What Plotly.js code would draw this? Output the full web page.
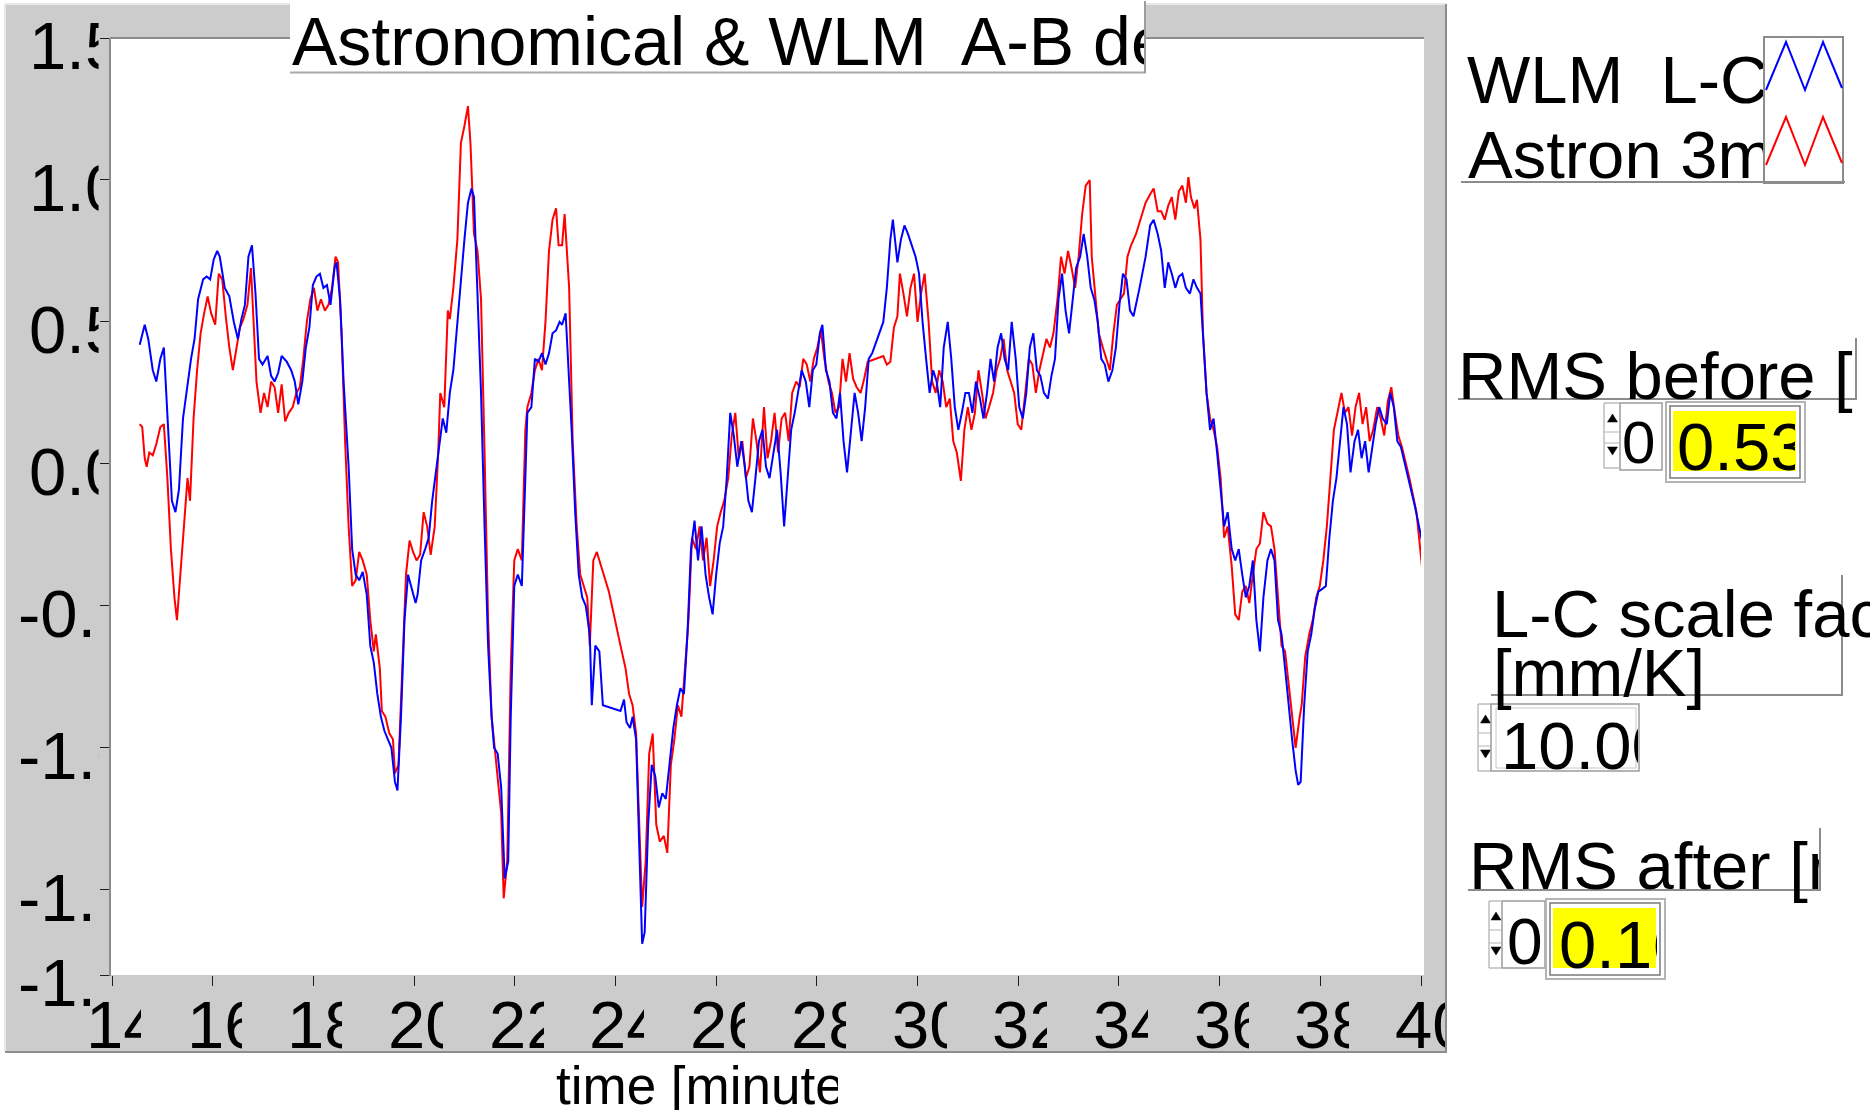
<!DOCTYPE html>
<html>
<head>
<meta charset="utf-8">
<script src="https://cdn.plot.ly/plotly-3.0.1.min.js"></script>
<style>
  html, body { margin: 0; padding: 0; background: #ffffff; overflow: hidden; }
  #chart { width: 1870px; height: 1110px; }
</style>
</head>
<body>
<div id="chart"></div>
<script>
// ---- data: A-B delay traces, time in minutes ----
const wlmTime = [
  14.55,14.65,14.72,14.81,14.88,14.96,15.03,15.10,15.19,15.26,
  15.33,15.41,15.48,15.57,15.64,15.71,15.81,15.88,15.95,16.02,
  16.09,16.14,16.24,16.33,16.42,16.50,16.57,16.64,16.71,16.78,
  16.85,16.92,16.99,17.09,17.16,17.23,17.30,17.37,17.47,17.56,
  17.63,17.70,17.78,17.85,17.92,17.99,18.06,18.13,18.20,18.27,
  18.34,18.42,18.46,18.53,18.60,18.70,18.77,18.84,18.91,18.98,
  19.06,19.13,19.20,19.27,19.34,19.41,19.48,19.55,19.62,19.67,
  19.74,19.81,19.88,19.96,20.03,20.07,20.14,20.22,20.29,20.36,
  20.43,20.50,20.57,20.64,20.71,20.78,20.86,20.93,21.00,21.07,
  21.14,21.19,21.26,21.33,21.40,21.47,21.54,21.59,21.66,21.73,
  21.80,21.87,21.92,21.99,22.06,22.14,22.21,22.25,22.33,22.40,
  22.47,22.54,22.61,22.68,22.75,22.82,22.89,22.94,23.01,23.06,
  23.13,23.20,23.27,23.34,23.41,23.49,23.53,23.60,23.68,23.75,
  23.91,24.10,24.17,24.22,24.29,24.34,24.41,24.46,24.53,24.58,
  24.65,24.72,24.79,24.86,24.93,25.00,25.07,25.15,25.22,25.29,
  25.36,25.43,25.50,25.57,25.64,25.71,25.79,25.86,25.93,26.00,
  26.07,26.14,26.21,26.28,26.35,26.42,26.50,26.57,26.64,26.71,
  26.78,26.85,26.92,26.99,27.06,27.14,27.21,27.28,27.35,27.42,
  27.49,27.56,27.63,27.70,27.78,27.85,27.92,27.99,28.06,28.11,
  28.18,28.25,28.32,28.39,28.46,28.53,28.60,28.68,28.75,28.82,
  28.89,28.96,29.03,29.10,29.32,29.39,29.46,29.51,29.55,29.60,
  29.67,29.74,29.81,29.88,29.96,30.03,30.10,30.17,30.24,30.31,
  30.38,30.45,30.52,30.60,30.67,30.74,30.81,30.88,30.95,31.02,
  31.09,31.16,31.24,31.31,31.38,31.45,31.52,31.59,31.66,31.73,
  31.80,31.87,31.95,32.02,32.09,32.16,32.23,32.30,32.37,32.44,
  32.51,32.59,32.66,32.73,32.80,32.87,32.94,33.01,33.08,33.15,
  33.23,33.30,33.37,33.44,33.51,33.58,33.65,33.72,33.79,33.87,
  33.94,34.01,34.08,34.15,34.22,34.29,34.41,34.53,34.62,34.69,
  34.77,34.84,34.91,34.98,35.05,35.12,35.19,35.26,35.33,35.41,
  35.48,35.55,35.62,35.67,35.74,35.81,35.88,35.95,36.02,36.09,
  36.16,36.24,36.31,36.38,36.45,36.52,36.59,36.66,36.73,36.80,
  36.87,36.95,37.02,37.09,37.16,37.23,37.30,37.37,37.44,37.51,
  37.56,37.61,37.68,37.75,37.82,37.89,37.96,38.04,38.11,38.18,
  38.25,38.32,38.39,38.46,38.53,38.60,38.68,38.75,38.82,38.89,
  38.96,39.03,39.10,39.17,39.24,39.32,39.39,39.46,39.53,39.60,
  39.74,39.88,40.03
];
const wlmDelay = [
  0.42,0.49,0.44,0.33,0.29,0.37,0.41,0.18,-0.13,-0.17,
  -0.09,0.16,0.25,0.37,0.44,0.58,0.65,0.66,0.65,0.72,
  0.75,0.73,0.62,0.59,0.50,0.44,0.51,0.56,0.73,0.77,
  0.60,0.37,0.35,0.38,0.31,0.29,0.32,0.38,0.36,0.33,
  0.29,0.21,0.29,0.41,0.48,0.63,0.66,0.67,0.62,0.63,
  0.56,0.69,0.71,0.58,0.29,-0.01,-0.30,-0.39,-0.41,-0.38,
  -0.46,-0.64,-0.70,-0.81,-0.89,-0.94,-0.97,-1.00,-1.12,-1.15,
  -0.89,-0.55,-0.39,-0.44,-0.49,-0.46,-0.34,-0.30,-0.26,-0.13,
  -0.03,0.06,0.16,0.11,0.25,0.33,0.50,0.67,0.79,0.92,
  0.97,0.94,0.60,0.25,-0.22,-0.64,-0.89,-1.00,-1.02,-1.14,
  -1.46,-1.40,-0.89,-0.43,-0.39,-0.43,-0.05,0.18,0.20,0.37,
  0.36,0.39,0.35,0.39,0.46,0.47,0.50,0.49,0.53,0.37,
  0.12,-0.17,-0.39,-0.47,-0.50,-0.60,-0.85,-0.64,-0.66,-0.85,
  -0.86,-0.87,-0.83,-0.91,-0.93,-0.89,-0.97,-1.31,-1.69,-1.65,
  -1.27,-1.06,-1.10,-1.21,-1.16,-1.18,-1.06,-0.93,-0.85,-0.79,
  -0.81,-0.60,-0.30,-0.20,-0.34,-0.22,-0.39,-0.47,-0.53,-0.39,
  -0.28,-0.22,-0.05,0.18,0.10,-0.01,0.08,-0.01,-0.13,-0.17,
  -0.05,0.08,0.12,-0.01,-0.05,0.04,0.12,-0.03,-0.22,-0.05,
  0.12,0.18,0.25,0.33,0.29,0.20,0.33,0.35,0.46,0.49,
  0.33,0.29,0.18,0.16,0.25,0.08,-0.03,0.12,0.25,0.18,
  0.08,0.20,0.37,0.39,0.50,0.62,0.79,0.86,0.79,0.71,
  0.79,0.84,0.81,0.77,0.73,0.67,0.50,0.37,0.25,0.33,
  0.29,0.20,0.41,0.50,0.37,0.20,0.12,0.18,0.25,0.25,
  0.18,0.29,0.23,0.16,0.25,0.37,0.29,0.41,0.46,0.37,
  0.33,0.50,0.37,0.20,0.16,0.25,0.41,0.46,0.33,0.31,
  0.25,0.23,0.31,0.37,0.58,0.67,0.54,0.46,0.58,0.69,
  0.73,0.81,0.73,0.62,0.58,0.50,0.37,0.35,0.29,0.33,
  0.41,0.56,0.67,0.65,0.54,0.52,0.62,0.73,0.84,0.86,
  0.81,0.75,0.62,0.71,0.67,0.62,0.66,0.67,0.62,0.60,
  0.65,0.62,0.60,0.46,0.25,0.12,0.16,0.04,-0.09,-0.22,
  -0.17,-0.30,-0.34,-0.30,-0.39,-0.47,-0.43,-0.34,-0.55,-0.66,
  -0.47,-0.34,-0.30,-0.34,-0.55,-0.60,-0.72,-0.85,-0.97,-1.08,
  -1.13,-1.12,-0.85,-0.66,-0.60,-0.51,-0.45,-0.44,-0.43,-0.26,
  -0.13,-0.05,0.08,0.20,0.14,-0.03,0.08,0.12,0.02,0.08,
  -0.03,0.06,0.14,0.20,0.16,0.14,0.25,0.20,0.08,0.06,
  -0.05,-0.15,-0.28
];
const astronTime = [
  14.55,14.60,14.65,14.69,14.74,14.81,14.88,14.96,15.03,15.10,
  15.17,15.24,15.29,15.36,15.43,15.50,15.55,15.62,15.69,15.76,
  15.83,15.90,15.97,16.05,16.12,16.19,16.26,16.33,16.40,16.47,
  16.54,16.61,16.69,16.76,16.80,16.87,16.95,17.02,17.09,17.16,
  17.23,17.30,17.37,17.44,17.51,17.59,17.66,17.73,17.80,17.87,
  17.94,18.01,18.08,18.15,18.23,18.30,18.37,18.44,18.49,18.56,
  18.63,18.70,18.77,18.84,18.91,18.98,19.06,19.13,19.20,19.24,
  19.32,19.36,19.43,19.51,19.58,19.62,19.69,19.77,19.84,19.91,
  19.98,20.05,20.12,20.19,20.26,20.33,20.41,20.48,20.52,20.60,
  20.67,20.71,20.78,20.86,20.93,21.00,21.07,21.12,21.19,21.26,
  21.33,21.40,21.47,21.54,21.61,21.66,21.73,21.78,21.85,21.92,
  21.99,22.06,22.14,22.21,22.25,22.33,22.40,22.47,22.54,22.61,
  22.68,22.75,22.82,22.87,22.94,22.99,23.04,23.08,23.15,23.23,
  23.30,23.37,23.44,23.49,23.56,23.63,23.87,24.10,24.20,24.27,
  24.34,24.41,24.48,24.53,24.60,24.67,24.74,24.81,24.88,24.96,
  25.03,25.10,25.17,25.24,25.31,25.38,25.45,25.52,25.60,25.67,
  25.74,25.81,25.88,25.95,26.02,26.09,26.16,26.24,26.31,26.38,
  26.45,26.52,26.59,26.66,26.73,26.80,26.87,26.95,27.02,27.09,
  27.16,27.23,27.30,27.37,27.44,27.51,27.59,27.66,27.73,27.80,
  27.87,27.94,28.01,28.08,28.15,28.23,28.30,28.37,28.44,28.51,
  28.58,28.65,28.72,28.79,28.87,28.94,29.01,29.32,29.39,29.46,
  29.53,29.60,29.65,29.72,29.79,29.86,29.93,30.00,30.07,30.14,
  30.22,30.29,30.36,30.43,30.50,30.57,30.64,30.71,30.78,30.86,
  30.93,31.00,31.07,31.14,31.21,31.28,31.35,31.42,31.50,31.57,
  31.64,31.71,31.78,31.85,31.92,31.99,32.06,32.14,32.21,32.28,
  32.35,32.42,32.49,32.56,32.63,32.70,32.78,32.85,32.92,32.99,
  33.06,33.13,33.20,33.27,33.34,33.42,33.46,33.53,33.60,33.68,
  33.75,33.82,33.89,33.96,34.03,34.10,34.17,34.24,34.34,34.43,
  34.53,34.62,34.69,34.77,34.84,34.91,34.98,35.05,35.12,35.19,
  35.26,35.33,35.38,35.43,35.50,35.55,35.62,35.67,35.74,35.81,
  35.88,35.95,36.02,36.09,36.16,36.24,36.31,36.38,36.45,36.52,
  36.59,36.66,36.73,36.80,36.87,36.95,37.02,37.09,37.16,37.23,
  37.30,37.37,37.44,37.51,37.59,37.63,37.70,37.78,37.85,37.92,
  37.99,38.06,38.13,38.20,38.27,38.34,38.42,38.49,38.56,38.63,
  38.70,38.77,38.84,38.91,38.98,39.05,39.13,39.20,39.27,39.34,
  39.41,39.48,39.55,39.62,39.77,39.91,40.03
];
const astronDelay = [
  0.14,0.13,0.02,-0.01,0.04,0.03,0.07,0.13,0.14,-0.05,
  -0.30,-0.47,-0.55,-0.39,-0.22,-0.05,-0.13,0.16,0.33,0.46,
  0.53,0.59,0.53,0.49,0.67,0.65,0.52,0.41,0.33,0.41,
  0.48,0.51,0.56,0.69,0.55,0.29,0.18,0.25,0.20,0.29,
  0.27,0.18,0.28,0.15,0.18,0.20,0.25,0.27,0.37,0.50,
  0.58,0.62,0.54,0.58,0.54,0.56,0.62,0.73,0.71,0.46,
  0.08,-0.22,-0.43,-0.41,-0.31,-0.34,-0.39,-0.55,-0.66,-0.60,
  -0.72,-0.87,-0.89,-0.95,-0.97,-1.09,-1.06,-0.72,-0.39,-0.27,
  -0.31,-0.34,-0.32,-0.17,-0.22,-0.32,-0.22,0.04,0.25,0.20,
  0.54,0.51,0.62,0.79,1.13,1.19,1.26,1.13,0.81,0.75,
  0.58,0.04,-0.55,-0.89,-1.02,-1.10,-1.23,-1.53,-1.40,-0.72,
  -0.34,-0.30,-0.34,0.12,0.20,0.25,0.33,0.37,0.33,0.50,
  0.75,0.86,0.90,0.77,0.77,0.88,0.73,0.62,0.08,-0.22,
  -0.39,-0.43,-0.47,-0.64,-0.34,-0.31,-0.45,-0.64,-0.72,-0.81,
  -0.85,-0.95,-1.31,-1.56,-1.40,-1.02,-0.95,-1.27,-1.33,-1.31,
  -1.37,-1.06,-0.97,-0.85,-0.89,-0.72,-0.55,-0.26,-0.30,-0.22,
  -0.34,-0.26,-0.43,-0.34,-0.22,-0.17,-0.13,-0.05,0.10,0.18,
  0.02,0.08,-0.05,-0.01,0.16,0.08,-0.03,0.20,0.02,0.08,
  0.18,0.04,0.16,0.18,0.08,0.25,0.29,0.27,0.37,0.35,
  0.29,0.37,0.41,0.47,0.37,0.29,0.25,0.18,0.20,0.37,
  0.29,0.39,0.30,0.27,0.25,0.30,0.36,0.38,0.35,0.36,
  0.48,0.52,0.67,0.60,0.52,0.62,0.67,0.50,0.60,0.67,
  0.50,0.29,0.25,0.33,0.29,0.20,0.23,0.08,0.04,-0.06,
  0.12,0.20,0.12,0.18,0.33,0.25,0.16,0.20,0.25,0.33,
  0.37,0.44,0.33,0.29,0.25,0.14,0.12,0.25,0.37,0.35,
  0.25,0.33,0.39,0.44,0.41,0.46,0.58,0.73,0.67,0.75,
  0.69,0.62,0.73,0.88,0.98,1.00,0.73,0.60,0.46,0.41,
  0.37,0.33,0.46,0.56,0.58,0.60,0.73,0.77,0.81,0.86,
  0.92,0.95,0.97,0.89,0.89,0.86,0.91,0.94,0.86,0.96,
  0.98,0.92,1.01,0.94,0.90,0.93,0.79,0.46,0.25,0.16,
  0.12,0.06,-0.05,-0.26,-0.22,-0.36,-0.53,-0.55,-0.45,-0.43,
  -0.49,-0.39,-0.30,-0.28,-0.17,-0.21,-0.22,-0.30,-0.47,-0.64,
  -0.66,-0.78,-0.89,-1.00,-0.89,-0.85,-0.68,-0.60,-0.55,-0.47,
  -0.43,-0.34,-0.22,-0.05,0.12,0.18,0.25,0.18,0.20,0.10,
  0.20,0.25,0.14,0.20,0.08,0.12,0.20,0.16,0.10,0.22,
  0.27,0.18,0.10,0.06,-0.05,-0.17,-0.38
];

// axis scales and tick labels
const timeRange  = [14, 40];
const delayRange = [-1.8, 1.5];
const xTickValues = [14, 16, 18, 20, 22, 24, 26, 28, 30, 32, 34, 36, 38, 40];
const yTickValues = [1.5, 1.0, 0.5, 0.0, -0.5, -1.0, -1.5, -1.8];

// panel readouts
const chartTitle   = 'Astronomical & WLM\u00a0 A-B delay [mm]';
const timeLabel    = 'time [minutes]';
const seriesNames  = ['WLM\u00a0 L-C corrected', 'Astron 3m reference'];
const rmsBeforeLbl = 'RMS before [mm]';
const rmsAfterLbl  = 'RMS after [mm]';
const scaleLbl     = ['L-C scale factor', '[mm/K]'];
const rmsBefore    = '0.53';
const rmsAfter     = '0.16';
const scaleFactor  = '10.00';
const digitIndex   = '0';

// ---- page geometry (pixels) ----
const PAGE_W = 1870, PAGE_H = 1110;
const M = { l: 112, r: 449, t: 38, b: 135 };
const PW = PAGE_W - M.l - M.r, PH = PAGE_H - M.t - M.b;
const px = x => (x - M.l) / PW;               // page px -> paper x
const py = y => (PAGE_H - M.b - y) / PH;      // page px -> paper y
const xPix = v => M.l + (v - timeRange[0]) / (timeRange[1] - timeRange[0]) * PW;

const FONT = 'Liberation Sans, Arial, Helvetica, sans-serif';
const ASC = 0.905;   // ascent of the face, fraction of size
const ADV = { '0': .556, '1': .556, '2': .556, '3': .556, '4': .556, '5': .556,
              '6': .556, '7': .556, '8': .556, '9': .556, '.': .278, '-': .333 };
const textWidth = (s, size) => [...s].reduce((w, c) => w + (ADV[c] || .556), 0) * size;

const GREY_DARK = '#8c8c8c', GREY_MID = '#9c9c9c';

// ---- panel chrome as shapes ----
const shapes = [];
function box(x0, y0, x1, y1, fill, stroke, lw, layer) {
  shapes.push({ type: 'rect', xref: 'paper', yref: 'paper',
    x0: px(x0), x1: px(x1), y0: py(y1), y1: py(y0),
    fillcolor: fill || 'rgba(0,0,0,0)',
    line: stroke ? { color: stroke, width: lw || 1 } : { width: 0 },
    layer: layer || 'above' });
}
function seg(x0, y0, x1, y1, color, lw, layer) {
  shapes.push({ type: 'line', xref: 'paper', yref: 'paper',
    x0: px(x0), y0: py(y0), x1: px(x1), y1: py(y1),
    line: { color: color, width: lw }, layer: layer || 'above' });
}
function poly(pts, color, lw, fill) {
  const d = pts.map((p, i) => (i ? 'L' : 'M') + px(p[0]).toFixed(6) + ',' + py(p[1]).toFixed(6)).join(' ')
            + (fill ? ' Z' : '');
  shapes.push({ type: 'path', xref: 'paper', yref: 'paper', path: d,
    line: { color: color, width: lw }, fillcolor: fill || 'rgba(0,0,0,0)', layer: 'above' });
}
// up/down increment buttons of a numeric control
function incrementer(x0, y0, x1, y1) {
  seg(x0, y0, x1, y0, GREY_MID, 1);
  seg(x0, y1, x1, y1, GREY_MID, 1);
  seg(x0, y0, x0, y1, GREY_MID, 1);
  seg(x0, y0 + 29, x1, y0 + 29, '#b4b4b4', 1);
  seg(x0, y1 - 25, x1, y1 - 25, '#b4b4b4', 1);
  const xc = (x0 + x1) / 2 + 1;
  poly([[xc, y0 + 11], [xc + 5, y0 + 19], [xc - 5, y0 + 19]], '#000', 0.5, '#000');
  poly([[xc - 5, y1 - 21], [xc + 5, y1 - 21], [xc, y1 - 13]], '#000', 0.5, '#000');
}
// yellow indicator with its double frame
function indicator(x0, y0, x1, y1) {
  box(x0, y0, x1, y1, null, '#b4b4b4', 2);
  box(x0 + 4, y0 + 4, x1 - 5, y1 - 4, null, '#7a7a7a', 1.5);
  box(x0 + 7, y0 + 9, x1 - 9, y1 - 11, '#ffff00', null);
}

// graph panel and plotting area
box(5, 4, 1447, 1052, '#cccccc', null, 0, 'below');
box(110, 38, 1424, 975, '#ffffff', null, 0, 'below');
seg(5, 4, 1447, 4, '#e8e8e8', 2);
seg(5, 4, 5, 1052, '#e8e8e8', 2);
seg(1446, 4, 1446, 1052, GREY_DARK, 2);
seg(5, 1052, 1447, 1052, GREY_DARK, 2);
seg(110, 38, 1424, 38, GREY_DARK, 2);
seg(110, 38, 110, 976, GREY_DARK, 2);
// title box
box(290, 1, 1145, 73, '#ffffff', null);
seg(290, 72.5, 1146, 72.5, '#a8a8a8', 2);
seg(1145, 1, 1145, 73, GREY_MID, 2);

// plot legend
box(1764, 37, 1843, 183, null, GREY_DARK, 2);
seg(1461, 182, 1845, 182, GREY_DARK, 2);
poly([[1766, 90], [1786, 42], [1805, 90], [1823, 42], [1842, 88]], '#0000ff', 2);
poly([[1766, 165], [1786, 117], [1805, 165], [1823, 117], [1842, 163]], '#ff0000', 2);

// RMS before
seg(1458, 399, 1857, 399, GREY_DARK, 2);
seg(1856, 338, 1856, 399, GREY_DARK, 2);
incrementer(1604, 403, 1619, 468);
box(1620, 403, 1662, 470, '#ffffff', GREY_MID, 1.5);
indicator(1666, 402, 1805, 482);

// L-C scale factor
seg(1491, 695, 1843, 695, GREY_DARK, 2);
seg(1842, 575, 1842, 695, GREY_DARK, 2);
incrementer(1478, 704, 1491, 771);
box(1491, 704, 1639, 771, '#ffffff', GREY_MID, 1.5);
box(1496, 708, 1636, 768, null, '#c8c8c8', 1);

// RMS after
seg(1468, 890, 1821, 890, GREY_DARK, 2);
seg(1820, 828, 1820, 890, GREY_DARK, 2);
incrementer(1489, 901, 1501, 968);
box(1502, 901, 1545, 968, '#ffffff', GREY_MID, 1.5);
indicator(1546, 899, 1665, 979);

// ---- text, clipped to its box like the panel does ----
const annotations = [];
function label(text, left, baseline, size, clipRight) {
  const a = { xref: 'paper', yref: 'paper', x: px(left), y: py(baseline - ASC * size),
    xanchor: 'left', yanchor: 'top', align: 'left', showarrow: false,
    borderpad: 0, borderwidth: 0, text: text,
    font: { family: FONT, size: size, color: '#000000' } };
  if (clipRight) a.width = clipRight - left;
  annotations.push(a);
}
label(chartTitle, 292, 65, 68, 1144);
label(seriesNames[0], 1467, 103, 67, 1763);
label(seriesNames[1], 1468, 178, 67, 1763);
label(rmsBeforeLbl, 1458, 399, 67, 1855);
label(digitIndex, 1622, 463, 60, 1661);
label(rmsBefore, 1677, 470, 67, 1795);
label(scaleLbl[0], 1492, 637, 67);
label(scaleLbl[1], 1493, 696, 67);
label(scaleFactor, 1501, 769, 67, 1638);
label(rmsAfterLbl, 1469, 889, 67, 1819);
label(digitIndex, 1507, 964, 64, 1544);
label(rmsAfter, 1559, 968, 67, 1657);
label(timeLabel, 556, 1104, 53, 838);

// y tick labels: centred on a column, cut at the tick marks
const Y_LBL = 67;
yTickValues.forEach(v => {
  const s = v.toFixed(1);
  const left = 76 - textWidth(s, Y_LBL) / 2;
  annotations.push({ xref: 'paper', x: px(left), xanchor: 'left',
    yref: 'y', y: v, yanchor: 'top', yshift: ASC * Y_LBL - 31,
    width: 99 - left, align: 'left', showarrow: false, borderpad: 0, borderwidth: 0,
    text: s, font: { family: FONT, size: Y_LBL, color: '#000000' } });
});
// x tick labels: fixed-width boxes under each tick
xTickValues.forEach(v => {
  const t = xPix(v);
  const right = Math.min(t + 29, 1445);
  annotations.push({ xref: 'x', x: v, xanchor: 'left', xshift: -26,
    yref: 'paper', y: py(1048 - ASC * Y_LBL), yanchor: 'top',
    width: right - (t - 26), align: 'left', showarrow: false, borderpad: 0, borderwidth: 0,
    text: String(v), font: { family: FONT, size: Y_LBL, color: '#000000' } });
});

// ---- traces ----
const traces = [
  { type: 'scatter', mode: 'lines', name: seriesNames[1], x: astronTime, y: astronDelay,
    line: { color: '#ff0000', width: 2 }, hoverinfo: 'skip' },
  { type: 'scatter', mode: 'lines', name: seriesNames[0], x: wlmTime, y: wlmDelay,
    line: { color: '#0000ff', width: 2 }, hoverinfo: 'skip' }
];

const axisCommon = { showgrid: false, zeroline: false, showline: false, showticklabels: false,
  ticks: 'outside', tickwidth: 1, tickcolor: '#1e1e1e', fixedrange: true };

const layout = {
  width: PAGE_W, height: PAGE_H,
  margin: { l: M.l, r: M.r, t: M.t, b: M.b, pad: 0 },
  paper_bgcolor: '#ffffff', plot_bgcolor: '#ffffff',
  showlegend: false, hovermode: false,
  xaxis: Object.assign({}, axisCommon, { range: timeRange, tickmode: 'array', tickvals: xTickValues, ticklen: 10 }),
  yaxis: Object.assign({}, axisCommon, { range: delayRange, tickmode: 'array', tickvals: yTickValues, ticklen: 11 }),
  shapes: shapes,
  annotations: annotations
};

Plotly.newPlot('chart', traces, layout, { displayModeBar: false, staticPlot: true, responsive: false });
</script>
</body>
</html>
